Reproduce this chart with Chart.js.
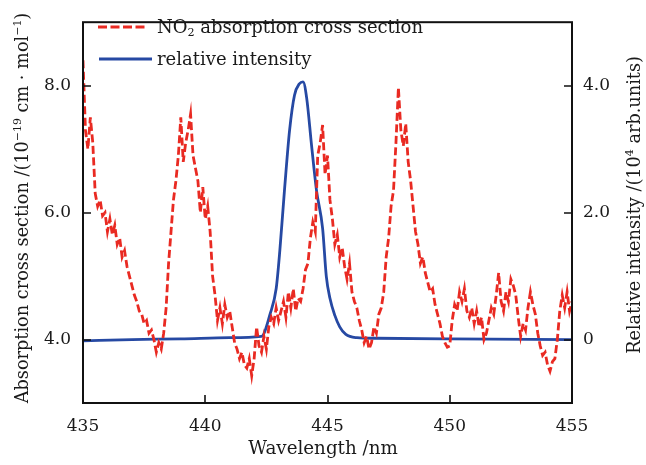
<!DOCTYPE html>
<html><head><meta charset="utf-8">
<script src="https://cdn.jsdelivr.net/npm/chart.js@4.4.1/dist/chart.umd.min.js"></script>
<style>html,body{margin:0;padding:0;background:#fff}canvas{display:block}</style>
</head><body>
<canvas id="c" width="646" height="465"></canvas>
<script>
// ---- data ----
const no2Wavelength = [
435.0,435.1,435.2,435.3,435.4,435.5,435.6,435.7,435.8,435.9,
436.0,436.1,436.2,436.3,436.4,436.5,436.6,436.7,436.8,436.9,
437.0,437.1,437.2,437.3,437.4,437.5,437.6,437.7,437.8,437.9,
438.0,438.1,438.2,438.3,438.4,438.5,438.6,438.7,438.8,438.9,
439.0,439.1,439.2,439.3,439.4,439.5,439.6,439.7,439.8,439.9,
440.0,440.1,440.2,440.3,440.4,440.5,440.6,440.7,440.8,440.9,
441.0,441.1,441.2,441.3,441.4,441.5,441.6,441.7,441.8,441.9,
442.0,442.1,442.2,442.3,442.4,442.5,442.6,442.7,442.8,442.9,
443.0,443.1,443.2,443.3,443.4,443.5,443.6,443.7,443.8,443.9,
444.0,444.1,444.2,444.3,444.4,444.5,444.6,444.7,444.8,444.9,
445.0,445.1,445.2,445.3,445.4,445.5,445.6,445.7,445.8,445.9,
446.0,446.1,446.2,446.3,446.4,446.5,446.6,446.7,446.8,446.9,
447.0,447.1,447.2,447.3,447.4,447.5,447.6,447.7,447.8,447.9,
448.0,448.1,448.2,448.3,448.4,448.5,448.6,448.7,448.8,448.9,
449.0,449.1,449.2,449.3,449.4,449.5,449.6,449.7,449.8,449.9,
450.0,450.1,450.2,450.3,450.4,450.5,450.6,450.7,450.8,450.9,
451.0,451.1,451.2,451.3,451.4,451.5,451.6,451.7,451.8,451.9,
452.0,452.1,452.2,452.3,452.4,452.5,452.6,452.7,452.8,452.9,
453.0,453.1,453.2,453.3,453.4,453.5,453.6,453.7,453.8,453.9,
454.0,454.1,454.2,454.3,454.4,454.5,454.6,454.7,454.8,454.9,
455.0];
const no2CrossSection = [
8.4,7.3,7.0,7.5,7.1,6.3,6.1,6.2,5.95,6.0,
5.7,5.9,5.65,5.8,5.5,5.6,5.3,5.4,5.15,5.0,
4.85,4.7,4.6,4.45,4.4,4.25,4.3,4.1,4.15,4.0,
3.8,3.95,3.85,4.1,4.5,5.2,5.7,6.2,6.5,6.9,
7.5,6.8,7.1,7.3,7.55,6.9,6.7,6.5,6.0,6.4,
5.9,6.1,5.7,5.0,4.7,4.3,4.5,4.25,4.55,4.35,
4.45,4.2,3.95,3.85,3.7,3.8,3.6,3.55,3.7,3.43,
3.7,4.2,3.9,3.8,4.05,3.85,4.2,4.35,4.25,4.5,
4.3,4.45,4.6,4.35,4.75,4.5,4.8,4.45,4.65,4.6,
4.8,5.1,5.2,5.6,5.85,5.7,6.9,7.1,7.38,6.6,
6.9,6.2,5.9,5.5,5.65,5.3,5.45,5.15,4.95,5.2,
4.75,4.6,4.5,4.3,4.15,3.95,4.05,3.85,3.95,4.2,
4.1,4.4,4.5,4.75,5.3,5.6,6.1,6.35,7.1,7.97,
7.3,7.05,7.4,6.8,6.5,6.1,5.7,5.5,5.2,5.3,
5.05,4.9,4.75,4.8,4.55,4.4,4.25,4.05,3.95,3.88,
3.9,4.3,4.55,4.45,4.75,4.6,4.8,4.45,4.35,4.5,
4.25,4.45,4.2,4.35,4.0,4.1,4.3,4.5,4.4,4.7,
5.05,4.6,4.45,4.75,4.6,4.95,4.85,4.7,4.35,4.05,
4.25,4.15,4.5,4.75,4.55,4.4,4.1,3.9,3.75,3.8,
3.6,3.5,3.65,3.7,4.0,4.45,4.7,4.5,4.75,4.45,
4.6];
const intensityWavelength = [435.0,437.0,439.0,441.0,442.3,442.65,442.9,443.05,443.25,443.45,443.65,443.85,444.0,444.15,444.35,444.55,444.8,444.95,445.1,445.3,445.5,445.75,446.2,447.0,450.0,455.0];
const relativeIntensity   = [-0.02,0.0,0.01,0.03,0.05,0.4,0.8,1.4,2.4,3.3,3.85,4.03,4.06,3.8,3.05,2.35,1.75,1.0,0.65,0.38,0.2,0.08,0.03,0.02,0.01,0.0];

const xTicks = [435,440,445,450,455];
const xTickLabels = ['435','440','445','450','455'];
const leftTicks = [4,6,8];
const leftTickLabels = ['4.0','6.0','8.0'];
const rightTicks = [0,2,4];
const rightTickLabels = ['0','2.0','4.0'];

const seriesLabels = ['NO2 absorption cross section','relative intensity'];

// ---- styling ----
const FONT = 'DejaVu Serif';
const FS = 17;
const TITLE_FS = 17.7;
const LEGEND_FS = 18;
const TXT = '#1a1a1a';
const RED = '#e92a22';
const BLUE = '#2649a3';

function drawRich(ctx, parts, x, y, size, align) {
  // y is the alphabetic baseline
  let total = 0;
  const m = parts.map(p => {
    const s = p[1] ? size * 0.62 : size;
    ctx.font = s + 'px "' + FONT + '"';
    const w = ctx.measureText(p[0]).width;
    total += w;
    return {t: p[0], k: p[1], s, w};
  });
  let cx = align === 'center' ? x - total / 2 : x;
  ctx.textBaseline = 'alphabetic';
  ctx.textAlign = 'left';
  m.forEach(p => {
    ctx.font = p.s + 'px "' + FONT + '"';
    let dy = 0;
    if (p.k === 'sup') dy = -size * 0.38;
    if (p.k === 'sub') dy = size * 0.18;
    ctx.fillText(p.t, cx, y + dy);
    cx += p.w;
  });
}

const decor = {
  id: 'decor',
  afterDatasetsDraw(chart) {
    const ctx = chart.ctx;
    const a = chart.chartArea;
    const sx = chart.scales.x, sy = chart.scales.y, sy2 = chart.scales.y2;
    ctx.save();
    ctx.strokeStyle = '#111';
    ctx.lineWidth = 2;
    ctx.strokeRect(a.left, a.top, a.right - a.left, a.bottom - a.top);
    ctx.lineWidth = 1.6;
    const TL = 8;
    ctx.beginPath();
    xTicks.forEach(v => { const p = Math.round(sx.getPixelForValue(v)); ctx.moveTo(p, a.bottom); ctx.lineTo(p, a.bottom - TL); });
    leftTicks.forEach(v => { const p = Math.round(sy.getPixelForValue(v)); ctx.moveTo(a.left, p); ctx.lineTo(a.left + TL, p); });
    rightTicks.forEach(v => { const p = Math.round(sy2.getPixelForValue(v)); ctx.moveTo(a.right, p); ctx.lineTo(a.right - TL, p); });
    ctx.stroke();

    // legend
    ctx.lineWidth = 2.8;
    ctx.strokeStyle = RED;
    ctx.setLineDash([9, 3.5]);
    ctx.beginPath(); ctx.moveTo(98, 27); ctx.lineTo(147, 27); ctx.stroke();
    ctx.setLineDash([]);
    ctx.strokeStyle = BLUE;
    ctx.lineWidth = 2.8;
    ctx.beginPath(); ctx.moveTo(99, 59); ctx.lineTo(152, 59); ctx.stroke();
    ctx.fillStyle = TXT;
    drawRich(ctx, [['NO', ''], ['2', 'sub'], [' absorption cross section', '']], 157, 33, LEGEND_FS, 'left');
    drawRich(ctx, [['relative intensity', '']], 157, 65, LEGEND_FS, 'left');

    // axis titles
    ctx.save();
    ctx.translate(28, 208);
    ctx.rotate(-Math.PI / 2);
    drawRich(ctx, [['Absorption cross section /(10', ''], ['\u2212' + '19', 'sup'], [' cm \u00b7 mol', ''], ['\u2212' + '1', 'sup'], [')', '']], 0, 0, TITLE_FS, 'center');
    ctx.restore();
    ctx.save();
    ctx.translate(640, 205);
    ctx.rotate(-Math.PI / 2);
    drawRich(ctx, [['Relative intensity /(10', ''], ['4', 'sup'], [' arb.units)', '']], 0, 0, TITLE_FS, 'center');
    ctx.restore();
    drawRich(ctx, [['Wavelength /nm', '']], 323, 454, 18.3, 'center');
    ctx.restore();
  }
};

const tickFont = {family: FONT, size: FS};

new Chart(document.getElementById('c').getContext('2d'), {
  type: 'line',
  data: {
    datasets: [
      {
        label: seriesLabels[0],
        data: no2Wavelength.map((x, i) => ({x, y: no2CrossSection[i]})),
        yAxisID: 'y',
        borderColor: RED, borderWidth: 2.8, borderDash: [8, 3.5],
        pointRadius: 0, tension: 0, fill: false
      },
      {
        label: seriesLabels[1],
        data: intensityWavelength.map((x, i) => ({x, y: relativeIntensity[i]})),
        yAxisID: 'y2',
        borderColor: BLUE, borderWidth: 2.8,
        pointRadius: 0, cubicInterpolationMode: 'monotone', fill: false
      }
    ]
  },
  options: {
    responsive: false, animation: false, devicePixelRatio: 1,
    layout: {padding: {top: 12, left: 0, right: 0, bottom: 0}},
    plugins: {legend: {display: false}, tooltip: {enabled: false}},
    scales: {
      x: {
        type: 'linear', min: 435, max: 455,
        afterBuildTicks: s => { s.ticks = xTicks.map(v => ({value: v})); },
        afterFit: s => { s.height = 62; },
        ticks: {callback: (v, i) => xTickLabels[i], font: tickFont, color: TXT, padding: 13, maxRotation: 0, autoSkip: false},
        grid: {display: false, drawTicks: false}, border: {display: false}
      },
      y: {
        position: 'left', min: 3, max: 9,
        afterBuildTicks: s => { s.ticks = leftTicks.map(v => ({value: v})); },
        afterFit: s => { s.width = 83; },
        ticks: {callback: (v, i) => leftTickLabels[i], font: tickFont, color: TXT, padding: 12, autoSkip: false},
        grid: {display: false, drawTicks: false}, border: {display: false}
      },
      y2: {
        position: 'right', min: -1, max: 5,
        afterBuildTicks: s => { s.ticks = rightTicks.map(v => ({value: v})); },
        afterFit: s => { s.width = 74; },
        ticks: {callback: (v, i) => rightTickLabels[i], font: tickFont, color: TXT, padding: 11, autoSkip: false},
        grid: {display: false, drawTicks: false}, border: {display: false}
      }
    }
  },
  plugins: [decor]
});
</script>
</body></html>
